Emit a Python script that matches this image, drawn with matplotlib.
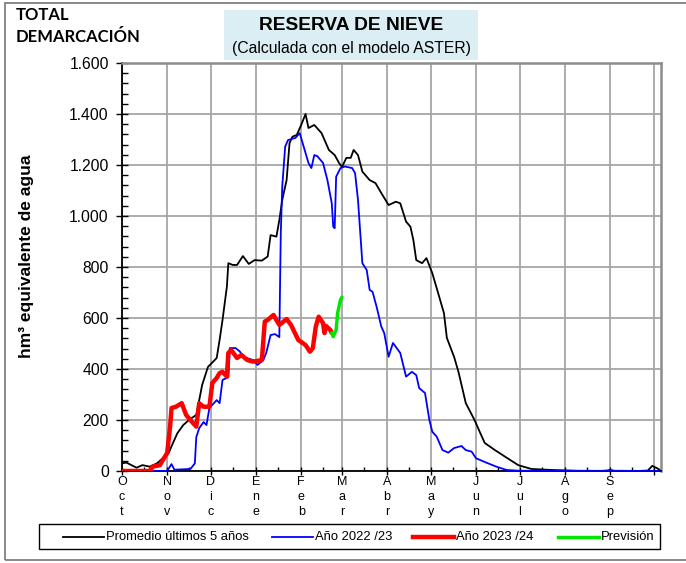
import matplotlib
matplotlib.use("Agg")
import matplotlib.pyplot as plt
from matplotlib.lines import Line2D
from matplotlib.patches import Rectangle
from matplotlib.ticker import FixedLocator, MultipleLocator

plt.rcParams["font.family"] = ["Liberation Sans", "DejaVu Sans"]

# days since 1 October (hydrological year)
MONTH_STARTS = [0, 31, 61, 92, 123, 151, 182, 212, 243, 273, 304, 335, 365]
MONTH_LABELS = ["Oct", "Nov", "Dic", "Ene", "Feb", "Mar", "Abr", "May", "Jun", "Jul", "Ago", "Sep"]
YTICKS = [0, 200, 400, 600, 800, 1000, 1200, 1400, 1600]

DAYS_MEAN = [0, 3, 10, 14, 19, 24, 28, 32, 35, 38, 42, 46, 51, 53, 55, 59, 65, 67, 69, 72,
             73, 76, 79, 83, 87, 91, 96, 100, 102, 106, 108, 110, 113, 115, 117, 120, 123,
             126, 128, 132, 137, 142, 146, 149, 151, 154, 157, 159, 162, 165, 170, 174, 178,
             183, 188, 191, 195, 198, 200, 202, 206, 209, 213, 217, 221, 223, 228, 231, 236,
             242, 246, 249, 256, 263, 272, 281, 295, 313, 354, 361, 364, 367, 369]
MEAN = [30, 33, 13, 23, 17, 30, 50, 70, 110, 148, 180, 200, 220, 278, 337, 408, 443, 514,
        592, 723, 815, 808, 808, 843, 812, 827, 825, 841, 925, 919, 984, 1063, 1141, 1286,
        1311, 1318, 1357, 1400, 1345, 1357, 1325, 1259, 1239, 1208, 1192, 1228, 1228, 1259,
        1239, 1174, 1141, 1129, 1090, 1043, 1056, 1050, 978, 958, 906, 827, 815, 835, 776,
        698, 619, 522, 447, 388, 266, 200, 148, 110, 82, 56, 23, 8, 4, 1, 0, 2, 20, 12, 5]

DAYS_2223 = [0, 31, 34, 36, 47, 50, 51, 53, 56, 58, 60, 65, 67, 69, 73, 74, 78, 81, 83, 90,
             93, 97, 99, 102, 105, 108, 109, 110, 112, 114, 119, 122, 124, 128, 130, 132,
             134, 138, 141, 144, 145, 146, 147, 150, 153, 158, 160, 162, 165, 168, 170, 172,
             175, 178, 180, 183, 186, 191, 195, 199, 202, 204, 208, 211, 213, 216, 220, 224,
             228, 233, 236, 240, 243, 250, 257, 264, 273, 328, 333, 335, 338, 369]
Y2223 = [0, 0, 27, 5, 8, 30, 133, 168, 192, 180, 247, 278, 266, 357, 368, 482, 482, 468,
         448, 435, 416, 435, 463, 533, 537, 525, 933, 1115, 1272, 1298, 1306, 1325, 1286,
         1208, 1188, 1239, 1235, 1208, 1141, 1050, 958, 952, 1154, 1188, 1194, 1188, 1168,
         1063, 815, 788, 710, 703, 639, 566, 541, 448, 502, 463, 370, 389, 376, 325, 306,
         200, 154, 135, 82, 72, 90, 98, 82, 76, 50, 33, 17, 4, 1, 0, 2, 5, 1, 0]

DAYS_2324 = [0, 19, 21, 26, 28, 31, 33, 34, 37, 41, 44, 48, 51, 53, 56, 60, 62, 65, 67, 69,
             72, 73, 75, 79, 82, 86, 90, 96, 98, 100, 104, 106, 108, 113, 116, 121, 126, 129,
             131, 133, 135, 138, 139, 140, 143, 144]
Y2324 = [0, 0, 17, 23, 43, 70, 174, 247, 252, 266, 220, 193, 174, 266, 252, 252, 345, 365,
         384, 389, 370, 463, 474, 443, 455, 435, 429, 435, 586, 592, 612, 592, 573, 596, 573,
         514, 494, 468, 482, 566, 605, 580, 541, 569, 553, 541]

DAYS_PREV = [144, 145, 147, 148, 150, 151]
PREV = [541, 527, 553, 619, 671, 682]

W, H = 686, 563
fig = plt.figure(figsize=(W / 100, H / 100), dpi=100)
ax = fig.add_axes([122 / W, 1 - 471 / H, 539 / W, 408 / H])

GRID = "#a6a6a6"
ax.set_xlim(0, 370)
ax.set_ylim(0, 1600)
ax.xaxis.set_major_locator(FixedLocator(MONTH_STARTS))
ax.xaxis.set_minor_locator(FixedLocator([m + 15 for m in MONTH_STARTS[:-1]]))
ax.set_xticklabels([])
ax.set_yticks(YTICKS)
ax.set_yticklabels([f"{v:,}".replace(",", ".") for v in YTICKS], fontsize=11.3)
ax.yaxis.set_minor_locator(MultipleLocator(40))
ax.tick_params(axis="y", which="major", direction="inout", length=9, width=1, pad=5)
ax.tick_params(axis="y", which="minor", direction="in", length=4, width=1)
ax.tick_params(axis="x", which="major", direction="inout", length=6, width=1)
ax.tick_params(axis="x", which="minor", direction="in", length=3, width=1)
ax.grid(True, which="major", color=GRID, lw=1.3)
ax.set_axisbelow(True)
for side in ("top", "right"):
    ax.spines[side].set_color("#8c8c8c")
    ax.spines[side].set_linewidth(1.8)
for side in ("left", "bottom"):
    ax.spines[side].set_linewidth(1.3)

for m, lab in zip(MONTH_STARTS, MONTH_LABELS):
    ax.text(m, -0.013, "\n".join(lab), transform=ax.get_xaxis_transform(), ha="center",
            va="top", fontsize=9, linespacing=1.3)

series = [
    (DAYS_MEAN, MEAN, "black", 1.3, "Promedio últimos 5 años"),
    (DAYS_2223, Y2223, "#0000ff", 1.3, "Año 2022 /23"),
    (DAYS_2324, Y2324, "#ff0000", 3.2, "Año 2023 /24"),
    (DAYS_PREV, PREV, "#00e600", 2.5, "Previsión"),
]
for z, (xs, ys, col, lw, name) in enumerate(series):
    ax.plot(xs, ys, color=col, lw=lw, label=name, zorder=3 + z,
            solid_capstyle="round", solid_joinstyle="round")

fig.text(27 / W, 1 - 256 / H, "hm³ equivalente de agua", rotation=90, ha="center",
         va="center", fontsize=12.5, fontweight="bold")

fig.text(16 / W, 1 - 15 / H, "TOTAL", fontsize=12, fontweight="bold", family="Lato",
         va="center")
fig.text(16 / W, 1 - 37 / H, "DEMARCACIÓN", fontsize=12, fontweight="bold", family="Lato",
         va="center")

fig.patches.append(Rectangle((224 / W, 1 - 60 / H), 254 / W, 50 / H,
                             transform=fig.transFigure, facecolor="#daeef3", edgecolor="none"))
fig.text(351 / W, 1 - 25 / H, "RESERVA DE NIEVE", fontsize=13.8, fontweight="bold",
         ha="center", va="center")
fig.text(351 / W, 1 - 48 / H, "(Calculada con el modelo ASTER)", fontsize=11.3,
         ha="center", va="center")

fig.patches.append(Rectangle((5 / W, 3 / H), 1.0, 1 - 6 / H, transform=fig.transFigure,
                             facecolor="none", edgecolor="#808080", lw=1.3))

# legend box drawn by hand to match the spacing of the original
fig.patches.append(Rectangle((39 / W, 1 - 549 / H), 621 / W, 25 / H, transform=fig.transFigure,
                             facecolor="white", edgecolor="black", lw=1.0))
LEG_X = [63, 272, 413, 558]
ly = 1 - 537 / H
for lx, (_xs, _ys, col, lw, name) in zip(LEG_X, series):
    fig.lines.append(Line2D([lx / W, (lx + 41) / W], [ly, ly], transform=fig.transFigure,
                            color=col, lw=lw))
    fig.text((lx + 43) / W, ly, name, fontsize=9.4, va="center", ha="left")

fig.savefig("out.png", dpi=100)
